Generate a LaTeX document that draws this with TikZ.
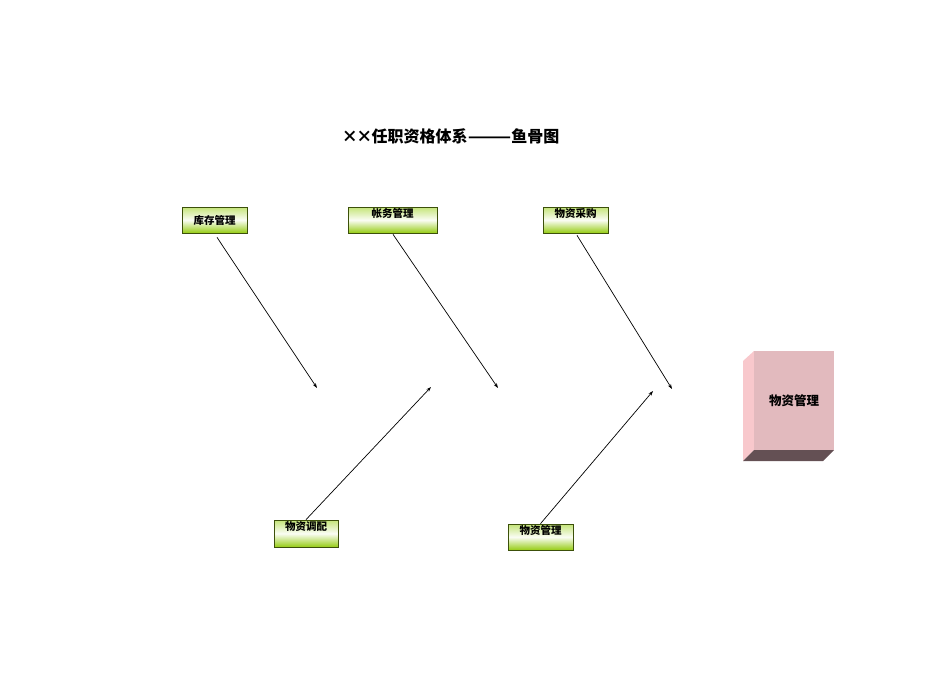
\documentclass[tikz,border=0pt]{standalone}
\usepackage{fontspec}
\newfontfamily\cjk{Noto Sans CJK SC}
\usetikzlibrary{arrows.meta,calc}
\definecolor{gtop}{RGB}{196,228,120}
\definecolor{gbot}{RGB}{150,204,20}
\definecolor{gborder}{RGB}{60,80,10}
\definecolor{pinkfront}{RGB}{226,186,190}
\definecolor{pinkside}{RGB}{248,200,204}
\definecolor{pinkbottom}{RGB}{100,80,84}
\tikzset{
  gbox/.style={draw=gborder, line width=0.7pt, top color=gtop, bottom color=gbot, middle color=white!92!gtop,
    minimum height=26pt, inner sep=0pt, font=\cjk\bfseries\fontsize{10.5}{11}\selectfont},
  upper/.style={text height=9pt, text depth=15pt},
  arr/.style={-{Stealth[length=5pt,width=3.5pt]}, line width=0.7pt, black}
}
\begin{document}
\begin{tikzpicture}[x=1pt,y=-1pt]
\useasboundingbox (0,0) rectangle (950,672);
% title
\node[font=\cjk\bfseries\fontsize{16}{18}\selectfont, inner sep=0pt] (title) at (451,136)
  {\makebox[14.5pt]{×}\makebox[14.5pt]{×}任职资格体系\scalebox{1.6}[1]{——}鱼骨图};
% boxes
\node[gbox, minimum width=65pt] (b1) at (214.5,220) {库存管理};
\node[gbox, upper, minimum width=89pt] (b2) at (392.5,220) {帐务管理};
\node[gbox, upper, minimum width=65pt] (b3) at (575.5,220) {物资采购};
\node[gbox, upper, minimum width=64pt, minimum height=27pt] (b4) at (306,533.5) {物资调配};
\node[gbox, upper, minimum width=65pt] (b5) at (540.5,537) {物资管理};
% arrow ends
\coordinate (e1) at (317,388);
\coordinate (e2) at (498,388);
\coordinate (e3) at (672,389);
\coordinate (e4) at (431,387);
\coordinate (e5) at (653,391);
\draw[arr] ($(b1.south)+(2.5,4)$) -- (e1);
\draw[arr] ($(b2.south)+(0.5,1)$) -- (e2);
\draw[arr] ($(b3.south)+(1.5,2)$) -- (e3);
\draw[arr] (b4.north) -- (e4);
\draw[arr] (b5.north) -- (e5);
% 3D head box
\fill[pinkside] (743,361) -- (754,351) -- (754,450) -- (743,461) -- cycle;
\fill[pinkbottom] (743,461) -- (754,450) -- (834,450) -- (823,461) -- cycle;
\fill[pinkfront] (754,351) rectangle (834,450);
\node[font=\cjk\bfseries\fontsize{12.5}{14}\selectfont] (head) at (794,401) {物资管理};
\end{tikzpicture}
\end{document}
